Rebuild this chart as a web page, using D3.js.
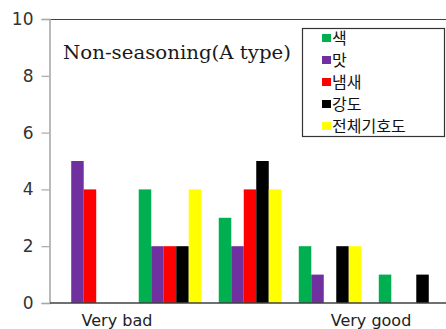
<!DOCTYPE html>
<html>
<head>
<meta charset="utf-8">
<script src="https://cdn.jsdelivr.net/npm/d3@7"></script>
<style>
  html, body { margin: 0; padding: 0; background: #fff; }
  svg { display: block; }
</style>
</head>
<body>
<div id="chart"></div>
<script>
// Rating categories (x axis), from "Very bad" to "Very good"
const categories = ["1", "2", "3", "4", "5"];
// Attribute series shown in the legend
const seriesNames = ["색", "맛", "냄새", "강도", "전체기호도"];
const seriesColors = ["#00B050", "#7030A0", "#FF0000", "#000000", "#FFFF00"];
// Counts per category for each series
const colorValues = [0, 4, 3, 2, 1];
const tasteValues = [5, 2, 2, 1, 0];
const smellValues = [4, 2, 4, 0, 0];
const strengthValues = [0, 2, 5, 2, 1];
const overallValues = [0, 4, 4, 2, 0];
const yTicks = [0, 2, 4, 6, 8, 10];
const xEndLabels = ["Very bad", "Very good"];
const titleText = "Non-seasoning(A type)";

const seriesValues = [colorValues, tasteValues, smellValues, strengthValues, overallValues];

const W = 446, H = 329;
const plot = { left: 50, top: 19, right: 450, bottom: 303 };

const svg = d3.select("#chart").append("svg")
  .attr("width", W).attr("height", H);

const x0 = d3.scaleBand()
  .domain(categories)
  .range([plot.left, plot.right])
  .paddingInner(0.219)
  .paddingOuter(0.109);

const x1 = d3.scaleBand()
  .domain(seriesNames)
  .range([0, x0.bandwidth()]);

const y = d3.scaleLinear().domain([0, 10]).range([plot.bottom, plot.top]);

// Top frame line
svg.append("line")
  .attr("x1", plot.left).attr("x2", W)
  .attr("y1", plot.top + 0.5).attr("y2", plot.top + 0.5)
  .attr("stroke", "#404040").attr("stroke-width", 1.2);

// Bars
categories.forEach((c, ci) => {
  seriesNames.forEach((s, si) => {
    const v = seriesValues[si][ci];
    if (v <= 0) return;
    svg.append("rect")
      .attr("x", x0(c) + x1(s))
      .attr("y", y(v))
      .attr("width", x1.bandwidth())
      .attr("height", y(0) - y(v))
      .attr("fill", seriesColors[si]);
  });
});

// Y axis
const yAxis = svg.append("g")
  .attr("transform", `translate(${plot.left - 0.5},0)`)
  .call(d3.axisLeft(y).tickValues(yTicks).tickSize(8).tickPadding(8).tickFormat(d3.format("d")));
yAxis.select(".domain").attr("stroke", "#a8a8a8").attr("stroke-width", 1.6);
yAxis.selectAll(".tick line").attr("stroke", "#a8a8a8").attr("stroke-width", 1.2);
yAxis.selectAll(".tick text")
  .attr("fill", "#333")
  .style("font-family", "'DejaVu Sans', sans-serif")
  .style("font-size", "17px");

// Baseline
svg.append("line")
  .attr("x1", plot.left).attr("x2", W)
  .attr("y1", plot.bottom).attr("y2", plot.bottom)
  .attr("stroke", "#404040").attr("stroke-width", 1.4);

// End labels of the rating scale
const labelFont = "'DejaVu Sans', sans-serif";
svg.append("text")
  .attr("x", x0(categories[0]) + x0.bandwidth() / 2 + 27)
  .attr("y", 326)
  .attr("text-anchor", "middle")
  .style("font-family", labelFont).style("font-size", "16px").attr("fill", "#222")
  .text(xEndLabels[0]);
svg.append("text")
  .attr("x", x0(categories[4]) + x0.bandwidth() / 2 - 39)
  .attr("y", 326)
  .attr("text-anchor", "middle")
  .style("font-family", labelFont).style("font-size", "16px").attr("fill", "#222")
  .text(xEndLabels[1]);

// Chart title
svg.append("text")
  .attr("x", 63).attr("y", 59)
  .style("font-family", "'DejaVu Serif', serif")
  .style("font-size", "18px")
  .attr("fill", "#1a1a1a")
  .attr("textLength", 228)
  .attr("lengthAdjust", "spacingAndGlyphs")
  .text(titleText);

// Legend
const lg = svg.append("g");
lg.append("rect")
  .attr("x", 302.5).attr("y", 28.5)
  .attr("width", 142).attr("height", 108)
  .attr("fill", "#fff").attr("stroke", "#333").attr("stroke-width", 1.2);
seriesNames.forEach((s, i) => {
  const cy = 38 + i * 22;
  lg.append("rect")
    .attr("x", 322).attr("y", cy - 4)
    .attr("width", 9).attr("height", 8)
    .attr("fill", seriesColors[i]);
  lg.append("text")
    .attr("x", 332).attr("y", cy + 6)
    .style("font-family", "'Noto Sans CJK KR', sans-serif")
    .style("font-size", "16px")
    .attr("fill", "#111")
    .text(s);
});
</script>
</body>
</html>
